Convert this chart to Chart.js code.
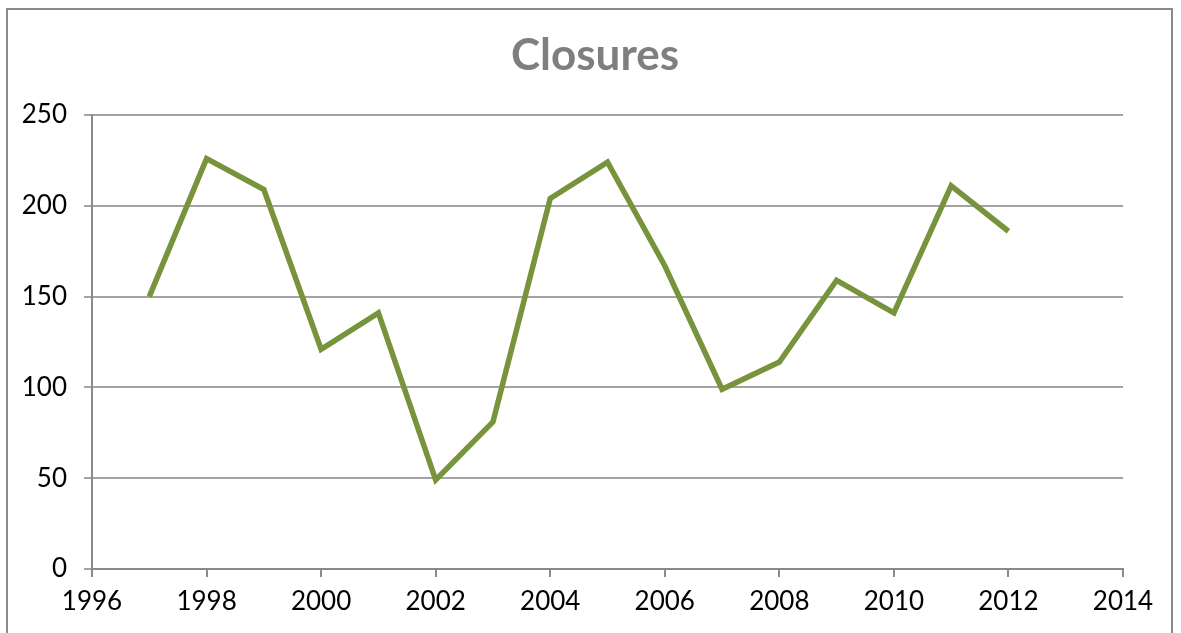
<!DOCTYPE html>
<html>
<head>
<meta charset="utf-8">
<script src="https://cdn.jsdelivr.net/npm/chart.js@4/dist/chart.umd.min.js"></script>
<style>
  html, body { margin: 0; padding: 0; background: #fff; }
  #wrap { position: relative; width: 1181px; height: 633px; overflow: hidden; }
  #frame { position: absolute; left: 6px; top: 8px; width: 1167px; height: 640px; border: 2px solid #8a8a8a; box-sizing: border-box; }
  #c { position: absolute; left: 0; top: 0; }
</style>
</head>
<body>
<div id="wrap">
  <div id="frame"></div>
  <canvas id="c" width="1181" height="633"></canvas>
</div>
<script>
const chartTitle = "Closures";
const years = [1997, 1998, 1999, 2000, 2001, 2002, 2003, 2004, 2005, 2006, 2007, 2008, 2009, 2010, 2011, 2012];
const closures = [150, 226, 209, 121, 141, 49, 81, 204, 224, 167, 99, 114, 159, 141, 211, 186];
const xTicks = [1996, 1998, 2000, 2002, 2004, 2006, 2008, 2010, 2012, 2014];
const yTicks = [0, 50, 100, 150, 200, 250];

const FONT = "Lato, 'Open Sans', 'DejaVu Sans', sans-serif";

const titlePlugin = {
  id: 'customTitle',
  afterDraw(chart) {
    const ctx = chart.ctx;
    ctx.save();
    ctx.font = "bold 44px " + FONT;
    ctx.fillStyle = "#7f7f7f";
    ctx.textAlign = "center";
    ctx.textBaseline = "middle";
    ctx.fillText(chartTitle, 595, 56);
    ctx.restore();
  }
};

new Chart(document.getElementById('c'), {
  type: 'line',
  data: {
    datasets: [{
      label: chartTitle,
      data: years.map((y, i) => ({ x: y, y: closures[i] })),
      borderColor: '#77933C',
      backgroundColor: '#77933C',
      borderWidth: 5.5,
      pointRadius: 0,
      tension: 0,
      fill: false
    }]
  },
  options: {
    responsive: false,
    animation: false,
    devicePixelRatio: 1,
    layout: { padding: { top: 115, right: 58, left: 0, bottom: 0 } },
    plugins: { legend: { display: false }, title: { display: false }, tooltip: { enabled: false } },
    scales: {
      x: {
        type: 'linear',
        min: xTicks[0],
        max: xTicks[xTicks.length - 1],
        afterBuildTicks: (s) => { s.ticks = xTicks.map(v => ({ value: v })); },
        afterFit: (s) => { s.height = 64; },
        ticks: {
          color: '#000',
          font: { family: FONT, size: 26 },
          padding: 9,
          maxRotation: 0,
          autoSkip: false,
          callback: (v) => String(v)
        },
        grid: { display: true, drawOnChartArea: false, drawTicks: true, tickLength: 8, color: '#8a8a8a', lineWidth: 2 },
        border: { display: true, color: '#8a8a8a', width: 2 }
      },
      y: {
        min: yTicks[0],
        max: yTicks[yTicks.length - 1],
        afterBuildTicks: (s) => { s.ticks = yTicks.map(v => ({ value: v })); },
        afterFit: (s) => { s.width = 92; },
        ticks: {
          color: '#000',
          font: { family: FONT, size: 26 },
          padding: 17,
          autoSkip: false
        },
        grid: { display: true, drawTicks: true, tickLength: 8, color: '#a3a3a3', lineWidth: 2 },
        border: { display: true, color: '#8a8a8a', width: 2 }
      }
    }
  },
  plugins: [titlePlugin]
});
</script>
</body>
</html>
